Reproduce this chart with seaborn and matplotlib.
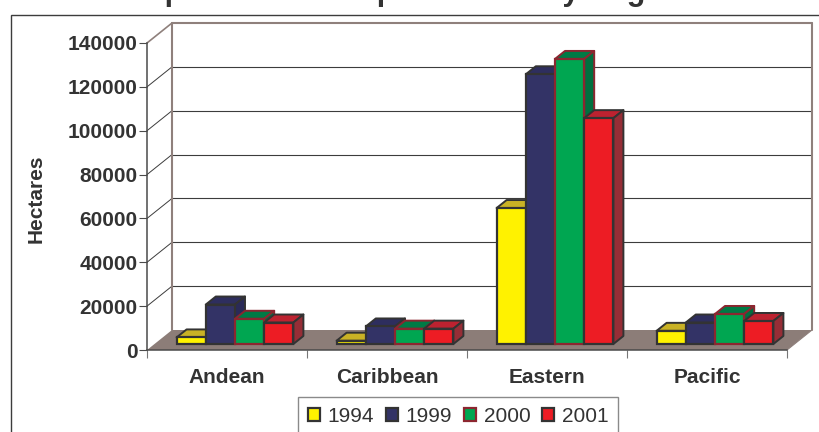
import numpy as np
import pandas as pd
import matplotlib
matplotlib.use('Agg')
import matplotlib.pyplot as plt
import seaborn as sns
from matplotlib.lines import Line2D
from matplotlib.patches import Patch, Polygon, Rectangle
from matplotlib.transforms import Affine2D, IdentityTransform

regions = ['Andean', 'Caribbean', 'Eastern', 'Pacific']
years = ['1994', '1999', '2000', '2001']
vals_1994 = [3000, 1500, 62000, 6000]
vals_1999 = [18000, 8000, 123000, 9800]
vals_2000 = [11500, 7000, 130000, 13700]
vals_2001 = [9800, 7000, 103000, 10500]
y_ticks = [0, 20000, 40000, 60000, 80000, 100000, 120000, 140000]

front_cols = ['#fff200', '#333366', '#00a651', '#ed1c24']
top_cols = ['#c9b225', '#2e2e5e', '#007a45', '#bd2230']
side_cols = ['#a89a20', '#2a2a58', '#00703f', '#962d36']
edge_cols = ['#333333', '#333333', '#8c2630', '#333333']

text_col = '#333333'
wall_col = '#8f807c'

sns.set_theme(style='white')
plt.rcParams['font.family'] = ['Liberation Sans', 'DejaVu Sans']

df = pd.DataFrame({
    'region': regions * 4,
    'year': np.repeat(years, 4),
    'hectares': vals_1994 + vals_1999 + vals_2000 + vals_2001,
})

fig = plt.figure(figsize=(8.19, 4.32), dpi=100)
W, H = 819, 432
ax = fig.add_axes([147 / W, (H - 350) / H, 640 / W, 307 / H])
ax.patch.set_alpha(0)

sns.barplot(data=df, x='region', y='hectares', hue='year', palette=front_cols,
            saturation=1, width=0.73, gap=0, legend=False, ax=ax)
ax.set_xlim(-0.5, 3.5)
ax.set_ylim(0, 140000)

# pixel offsets of the fake 3d depth
wall_dx, wall_dy = 25, 20
bar_dx, bar_dy = 8, 6
top_dx, top_dy = 10, 8

to_px = ax.transData.transform
identity = IdentityTransform()

# floor and back wall
fl, fb = to_px((-0.5, 0))
fr, _ = to_px((3.5, 0))
ax.add_patch(Polygon([(fl, fb), (fr, fb), (fr + wall_dx, fb + wall_dy), (fl + wall_dx, fb + wall_dy)],
                     closed=True, fc='#8c7d78', ec='none', transform=identity, zorder=1, clip_on=False))

wall = ax.transData + Affine2D().translate(wall_dx, wall_dy)
for v in y_ticks[1:]:
    px, py = to_px((-0.5, v))
    top = v == y_ticks[-1]
    ax.plot([-0.5, 3.5], [v, v], transform=wall, clip_on=False, zorder=1.5,
            color=wall_col if top else '#3c3c3c', lw=1.5 if top else 0.8)
    ax.add_line(Line2D([px, px + wall_dx], [py, py + wall_dy], transform=identity, clip_on=False,
                       color=wall_col if top else '#3c3c3c', lw=1.2 if top else 0.7, zorder=1.5))
for x in [-0.5, 3.5]:
    ax.plot([x, x], [0, 140000], transform=wall, clip_on=False, color=wall_col, lw=1.5, zorder=1.6)
ax.add_line(Line2D([fr, fr + wall_dx], [fb, fb + wall_dy], transform=identity, clip_on=False,
                   color=wall_col, lw=0.8, zorder=1.6))

# bars: shift the seaborn fronts onto the floor, then add tops and sides
shifted = ax.transData + Affine2D().translate(bar_dx, bar_dy)
for i, cont in enumerate(ax.containers):
    z = 3 + i
    for bar in cont:
        bar.set_transform(shifted)
        bar.set_clip_on(False)
        bar.set_edgecolor(edge_cols[i])
        bar.set_linewidth(1.6)
        bar.set_zorder(z + 0.5)
        x0, y0 = shifted.transform((bar.get_x(), 0))
        x1, y1 = shifted.transform((bar.get_x() + bar.get_width(), bar.get_height()))
        ax.add_patch(Polygon([(x0, y1), (x1, y1), (x1 + top_dx, y1 + top_dy), (x0 + top_dx, y1 + top_dy)],
                             closed=True, fc=top_cols[i], ec=edge_cols[i], lw=1.4, joinstyle='round',
                             transform=identity, zorder=z, clip_on=False))
        ax.add_patch(Polygon([(x1, y0), (x1 + top_dx, y0 + top_dy), (x1 + top_dx, y1 + top_dy), (x1, y1)],
                             closed=True, fc=side_cols[i], ec=edge_cols[i], lw=1.4, joinstyle='round',
                             transform=identity, zorder=z, clip_on=False))

# axes
sns.despine(ax=ax)
ax.spines['left'].set(color='#4a4a4a', lw=1.1)
ax.spines['bottom'].set(color='#4a4a4a', lw=1.1)
ax.set_yticks(y_ticks)
ax.set_yticklabels([str(v) for v in y_ticks], fontsize=15, fontweight='bold', color=text_col)
ax.set_xticks(range(4))
ax.set_xticklabels(regions, fontsize=15, fontweight='bold', color=text_col)
ax.set_xticks([-0.5, 0.5, 1.5, 2.5, 3.5], minor=True)
ax.tick_params(axis='y', which='major', left=True, length=6, width=0.8, color='#4a4a4a', pad=1)
ax.tick_params(axis='x', which='major', bottom=False, pad=7)
ax.tick_params(axis='x', which='minor', bottom=True, length=6, width=0.8, color='#777777')
ax.set_xlabel('')
ax.set_ylabel('')
fig.text(36 / W, (H - 199) / H, 'Hectares', rotation=90, ha='center', va='center',
         fontsize=15, fontweight='bold', color=text_col)

# the title is cut off at the top of the reference, only descenders show; wording is a guess
fig.text(112 / W, 1.0, 'Crop Extent and Spread Area by Region', ha='left', va='baseline',
         fontsize=22, fontweight='bold', color=text_col)

# outer frame runs off the picture on the right and bottom
fig.add_artist(Rectangle((11 / W, -0.1), 1.0, (H - 15) / H + 0.1, transform=fig.transFigure,
                         fc='none', ec='#3c3c3c', lw=1.0))

handles = [Patch(fc=front_cols[i], ec=edge_cols[i], lw=1.6, label=years[i]) for i in range(4)]
leg = fig.legend(handles=handles, ncol=4, loc='center', bbox_to_anchor=(458 / W, (H - 416) / H),
                 fontsize=15, frameon=True, fancybox=False, framealpha=1, edgecolor='#8a8a8a',
                 handlelength=0.58, handleheight=0.58, handletextpad=0.38, columnspacing=0.55,
                 borderpad=0.45, labelcolor=text_col)
leg.get_frame().set_linewidth(1.0)

fig.savefig('out.png', dpi=100)
